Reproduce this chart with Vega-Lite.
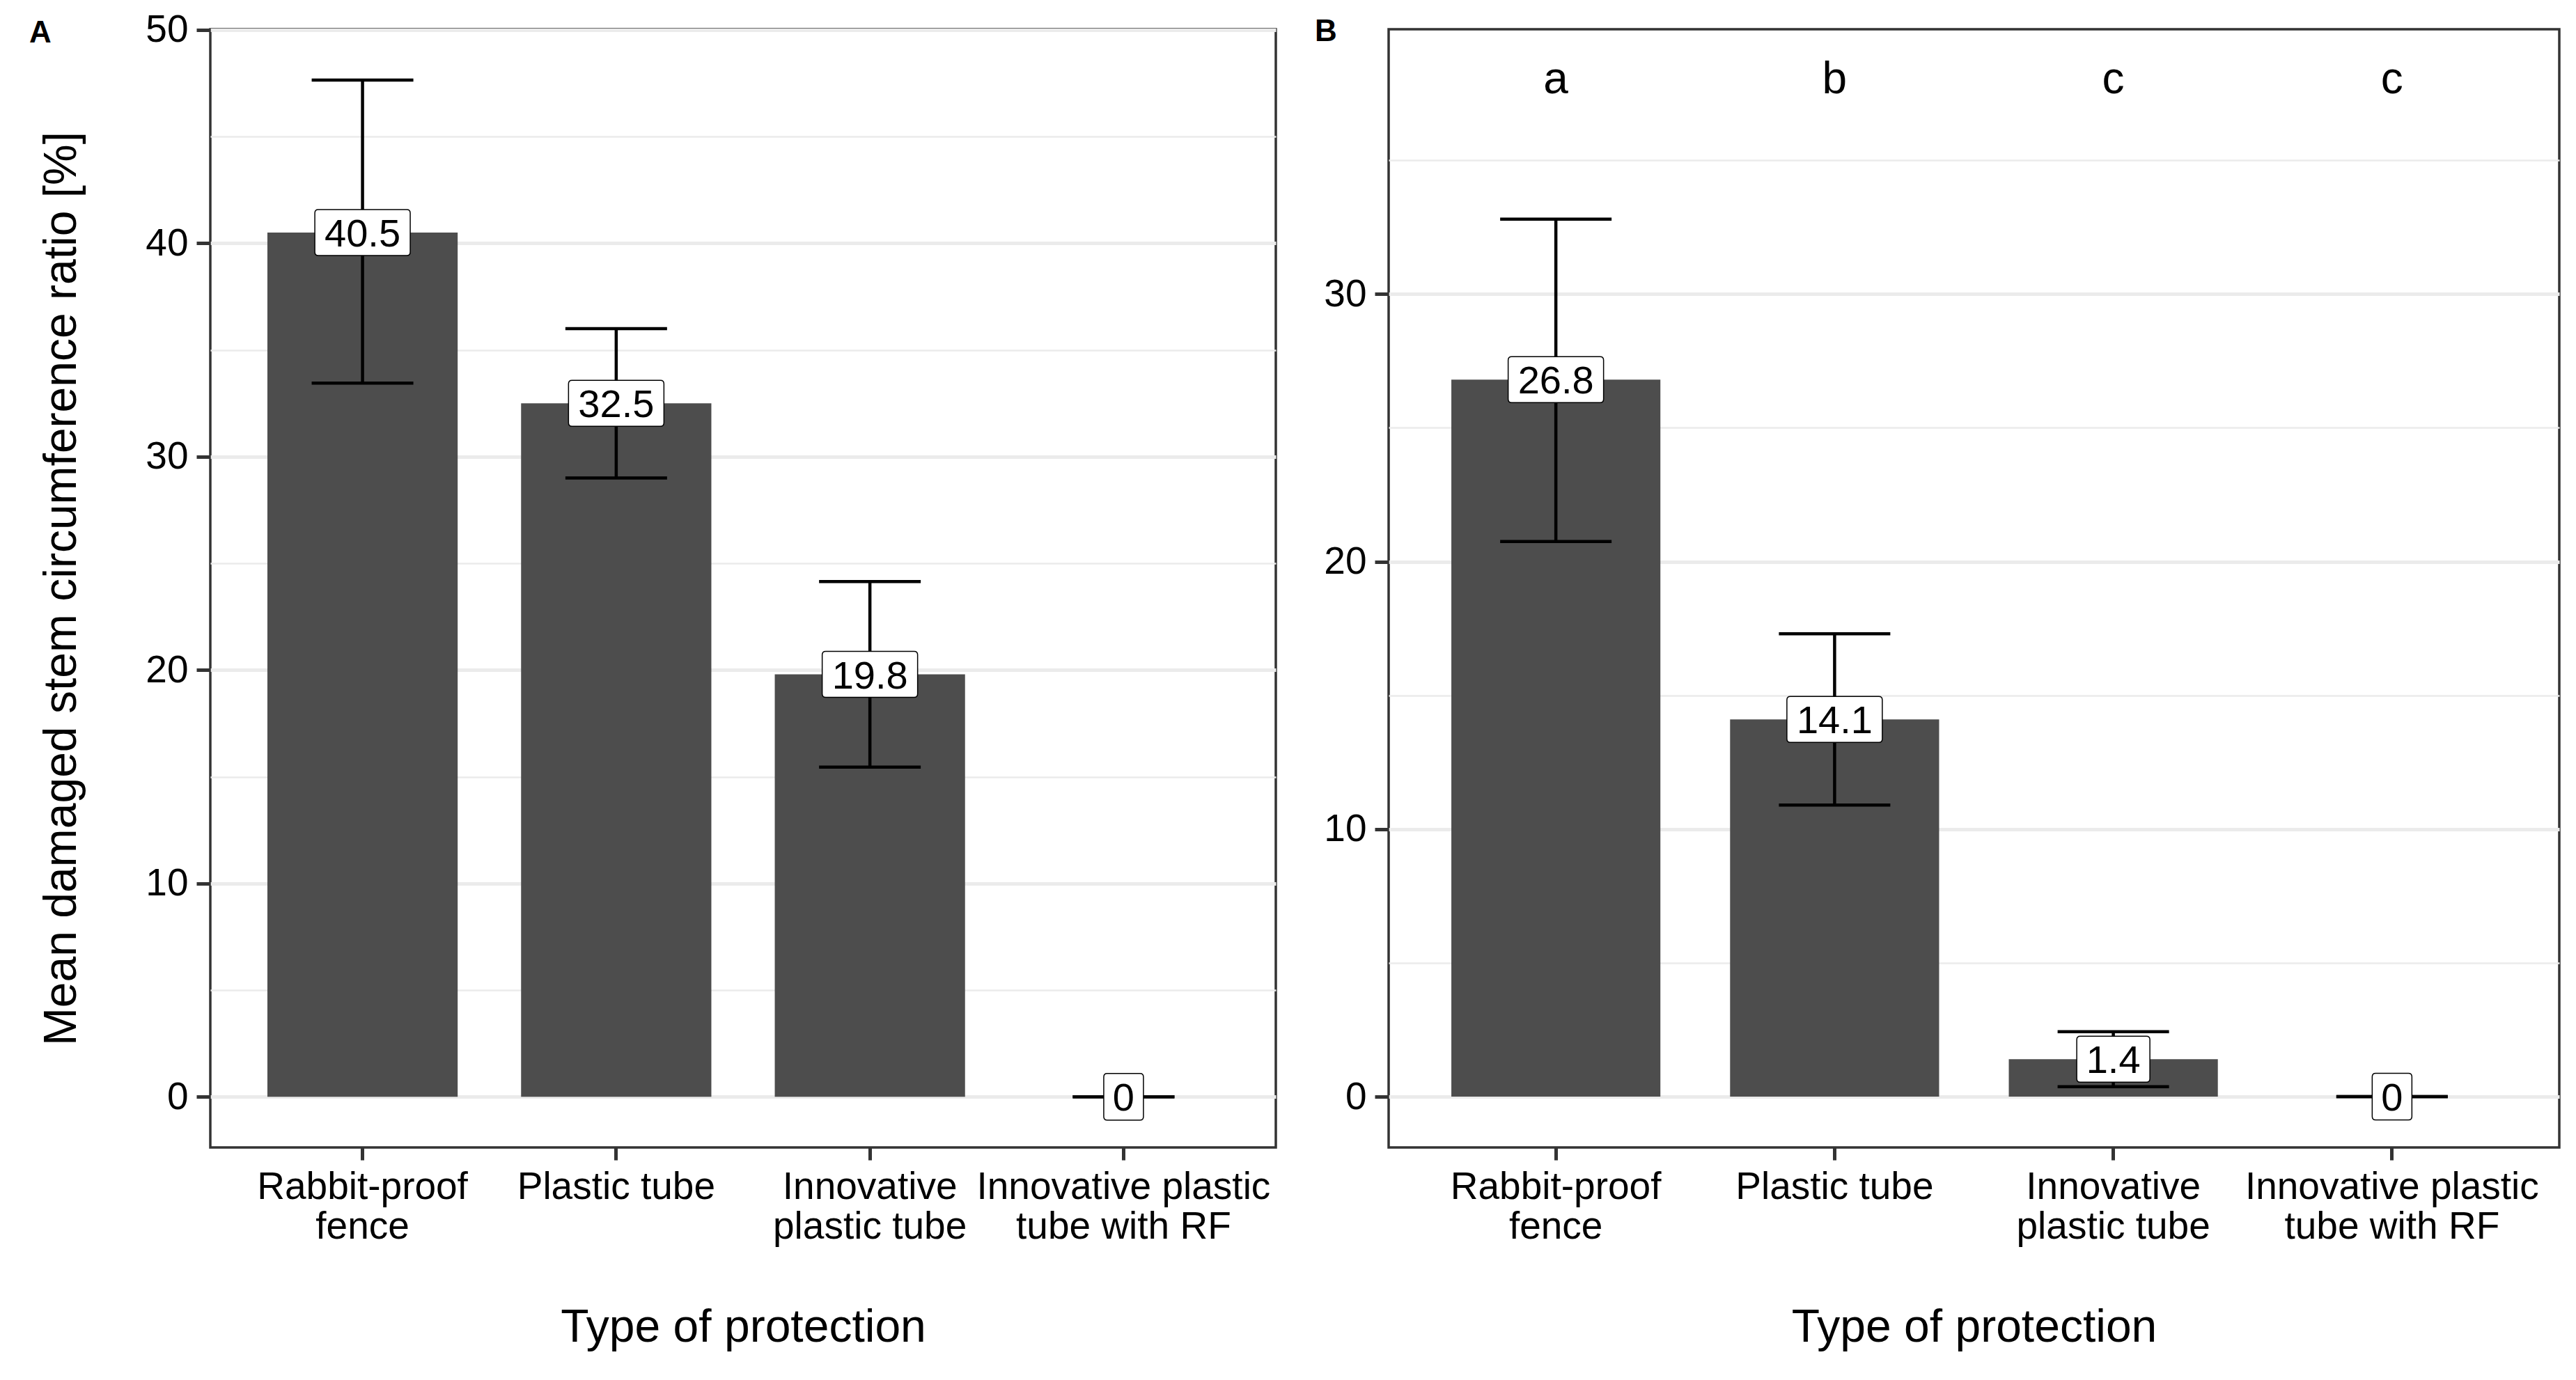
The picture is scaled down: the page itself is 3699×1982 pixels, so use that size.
{
  "$schema": "https://vega.github.io/schema/vega-lite/v6.json",
  "background": "white",
  "padding": {"left": 40, "top": 14, "right": 10, "bottom": 10},
  "bounds": "flush",
  "spacing": 162,
  "config": {
    "font": "Liberation Sans",
    "view": {"stroke": "#333333", "strokeWidth": 3.5},
    "axis": {
      "labelFont": "Liberation Sans",
      "labelFontSize": 55,
      "labelColor": "black",
      "titleFont": "Liberation Sans",
      "titleFontSize": 66,
      "titleFontWeight": "normal",
      "titleColor": "black",
      "tickColor": "#333333",
      "tickWidth": 5,
      "tickSize": 18,
      "domain": false,
      "gridColor": "#ebebeb"
    }
  },
  "datasets": {
    "A": [
      {"type": "Rabbit-proof fence", "mean": 40.5, "lo": 33.45, "hi": 47.65, "label": "40.5"},
      {"type": "Plastic tube", "mean": 32.5, "lo": 29.0, "hi": 36.0, "label": "32.5"},
      {"type": "Innovative plastic tube", "mean": 19.8, "lo": 15.45, "hi": 24.15, "label": "19.8"},
      {"type": "Innovative plastic tube with RF", "mean": 0, "lo": 0, "hi": 0, "label": "0"}
    ],
    "B": [
      {"type": "Rabbit-proof fence", "mean": 26.8, "lo": 20.75, "hi": 32.8, "label": "26.8", "letter": "a"},
      {"type": "Plastic tube", "mean": 14.1, "lo": 10.9, "hi": 17.3, "label": "14.1", "letter": "b"},
      {"type": "Innovative plastic tube", "mean": 1.4, "lo": 0.37, "hi": 2.43, "label": "1.4", "letter": "c"},
      {"type": "Innovative plastic tube with RF", "mean": 0, "lo": 0, "hi": 0, "label": "0", "letter": "c"}
    ]
  },
  "hconcat": [
    {
      "data": {"name": "A"},
      "width": 1530,
      "height": 1606,
      "title": {"text": "A", "anchor": "start", "frame": "group", "dx": -260, "offset": -89, "baseline": "alphabetic", "fontSize": 44, "fontWeight": "bold", "font": "Liberation Sans", "color": "black"},
      "encoding": {
        "x": {
          "field": "type", "type": "nominal", "sort": null,
          "scale": {"paddingInner": 0.25, "paddingOuter": 0.225},
          "axis": {
            "title": "Type of protection", "labelAngle": 0, "labelPadding": 12, "labelLineHeight": 57,
            "labelLimit": 1000, "labelOverlap": false, "grid": false, "titlePadding": 85,
            "labelExpr": "datum.label == 'Rabbit-proof fence' ? ['Rabbit-proof', 'fence'] : datum.label == 'Innovative plastic tube' ? ['Innovative', 'plastic tube'] : datum.label == 'Innovative plastic tube with RF' ? ['Innovative plastic', 'tube with RF'] : datum.label"
          }
        }
      },
      "layer": [
        {
          "mark": {"type": "bar", "color": "#4d4d4d"},
          "encoding": {
            "y": {
              "field": "mean", "type": "quantitative",
              "scale": {"domain": [-2.37, 50.03], "nice": false, "zero": false},
              "axis": {
                "title": "Mean damaged stem circumference ratio [%]",
                "values": [0, 5, 10, 15, 20, 25, 30, 35, 40, 45, 50],
                "labelExpr": "datum.value % 10 === 0 ? datum.label : ''",
                "tickOpacity": {"condition": {"test": "datum.value % 10 === 0", "value": 1}, "value": 0},
                "gridWidth": {"condition": {"test": "datum.value % 10 === 0", "value": 5}, "value": 2.5},
                "grid": true, "tickSize": 20, "labelPadding": 12, "titlePadding": 86
              }
            }
          }
        },
        {
          "mark": {"type": "rule", "color": "black", "strokeWidth": 4.5},
          "encoding": {"y": {"field": "lo", "type": "quantitative"}, "y2": {"field": "hi"}}
        },
        {
          "mark": {"type": "tick", "color": "black", "thickness": 4.5, "size": 146, "opacity": 1},
          "encoding": {"y": {"field": "lo", "type": "quantitative"}}
        },
        {
          "mark": {"type": "tick", "color": "black", "thickness": 4.5, "size": 146, "opacity": 1},
          "encoding": {"y": {"field": "hi", "type": "quantitative"}}
        },
        {
          "transform": [{"filter": "length(datum.label) === 4"}],
          "mark": {"type": "point", "shape": "M-1.27,-0.66L1.27,-0.66Q1.37,-0.66 1.37,-0.56L1.37,0.56Q1.37,0.66 1.27,0.66L-1.27,0.66Q-1.37,0.66 -1.37,0.56L-1.37,-0.56Q-1.37,-0.66 -1.27,-0.66Z", "size": 10000, "filled": true, "fill": "white", "stroke": "black", "strokeWidth": 1.5, "opacity": 1},
          "encoding": {"y": {"field": "mean", "type": "quantitative"}}
        },
        {
          "transform": [{"filter": "length(datum.label) === 1"}],
          "mark": {"type": "point", "shape": "M-0.47,-0.67L0.47,-0.67Q0.57,-0.67 0.57,-0.57L0.57,0.57Q0.57,0.67 0.47,0.67L-0.47,0.67Q-0.57,0.67 -0.57,0.57L-0.57,-0.57Q-0.57,-0.67 -0.47,-0.67Z", "size": 10000, "filled": true, "fill": "white", "stroke": "black", "strokeWidth": 1.5, "opacity": 1},
          "encoding": {"y": {"field": "mean", "type": "quantitative"}}
        },
        {
          "mark": {"type": "text", "fontSize": 56, "dy": 3, "color": "black", "font": "Liberation Sans"},
          "encoding": {"y": {"field": "mean", "type": "quantitative"}, "text": {"field": "label"}}
        }
      ]
    },
    {
      "data": {"name": "B"},
      "width": 1681,
      "height": 1606,
      "title": {"text": "B", "anchor": "start", "frame": "group", "dx": -106, "offset": -61, "baseline": "alphabetic", "fontSize": 44, "fontWeight": "bold", "font": "Liberation Sans", "color": "black"},
      "encoding": {
        "x": {
          "field": "type", "type": "nominal", "sort": null,
          "scale": {"paddingInner": 0.25, "paddingOuter": 0.225},
          "axis": {
            "title": "Type of protection", "labelAngle": 0, "labelPadding": 12, "labelLineHeight": 57,
            "labelLimit": 1000, "labelOverlap": false, "grid": false, "titlePadding": 85,
            "labelExpr": "datum.label == 'Rabbit-proof fence' ? ['Rabbit-proof', 'fence'] : datum.label == 'Innovative plastic tube' ? ['Innovative', 'plastic tube'] : datum.label == 'Innovative plastic tube with RF' ? ['Innovative plastic', 'tube with RF'] : datum.label"
          }
        }
      },
      "layer": [
        {
          "mark": {"type": "bar", "color": "#4d4d4d"},
          "encoding": {
            "y": {
              "field": "mean", "type": "quantitative",
              "scale": {"domain": [-1.9, 39.9], "nice": false, "zero": false},
              "axis": {
                "title": null,
                "values": [0, 5, 10, 15, 20, 25, 30, 35],
                "labelExpr": "datum.value % 10 === 0 ? datum.label : ''",
                "tickOpacity": {"condition": {"test": "datum.value % 10 === 0", "value": 1}, "value": 0},
                "gridWidth": {"condition": {"test": "datum.value % 10 === 0", "value": 5}, "value": 2.5},
                "grid": true, "tickSize": 20, "labelPadding": 12
              }
            }
          }
        },
        {
          "mark": {"type": "rule", "color": "black", "strokeWidth": 4.5},
          "encoding": {"y": {"field": "lo", "type": "quantitative"}, "y2": {"field": "hi"}}
        },
        {
          "mark": {"type": "tick", "color": "black", "thickness": 4.5, "size": 160, "opacity": 1},
          "encoding": {"y": {"field": "lo", "type": "quantitative"}}
        },
        {
          "mark": {"type": "tick", "color": "black", "thickness": 4.5, "size": 160, "opacity": 1},
          "encoding": {"y": {"field": "hi", "type": "quantitative"}}
        },
        {
          "transform": [{"filter": "length(datum.label) === 4"}],
          "mark": {"type": "point", "shape": "M-1.27,-0.66L1.27,-0.66Q1.37,-0.66 1.37,-0.56L1.37,0.56Q1.37,0.66 1.27,0.66L-1.27,0.66Q-1.37,0.66 -1.37,0.56L-1.37,-0.56Q-1.37,-0.66 -1.27,-0.66Z", "size": 10000, "filled": true, "fill": "white", "stroke": "black", "strokeWidth": 1.5, "opacity": 1},
          "encoding": {"y": {"field": "mean", "type": "quantitative"}}
        },
        {
          "transform": [{"filter": "length(datum.label) === 3"}],
          "mark": {"type": "point", "shape": "M-0.95,-0.66L0.95,-0.66Q1.05,-0.66 1.05,-0.56L1.05,0.56Q1.05,0.66 0.95,0.66L-0.95,0.66Q-1.05,0.66 -1.05,0.56L-1.05,-0.56Q-1.05,-0.66 -0.95,-0.66Z", "size": 10000, "filled": true, "fill": "white", "stroke": "black", "strokeWidth": 1.5, "opacity": 1},
          "encoding": {"y": {"field": "mean", "type": "quantitative"}}
        },
        {
          "transform": [{"filter": "length(datum.label) === 1"}],
          "mark": {"type": "point", "shape": "M-0.47,-0.67L0.47,-0.67Q0.57,-0.67 0.57,-0.57L0.57,0.57Q0.57,0.67 0.47,0.67L-0.47,0.67Q-0.57,0.67 -0.57,0.57L-0.57,-0.57Q-0.57,-0.67 -0.47,-0.67Z", "size": 10000, "filled": true, "fill": "white", "stroke": "black", "strokeWidth": 1.5, "opacity": 1},
          "encoding": {"y": {"field": "mean", "type": "quantitative"}}
        },
        {
          "mark": {"type": "text", "fontSize": 56, "dy": 3, "color": "black", "font": "Liberation Sans"},
          "encoding": {"y": {"field": "mean", "type": "quantitative"}, "text": {"field": "label"}}
        },
        {
          "mark": {"type": "text", "fontSize": 64, "dy": 0, "color": "black", "font": "Liberation Sans"},
          "encoding": {"y": {"datum": 38, "type": "quantitative"}, "text": {"field": "letter"}}
        }
      ]
    }
  ]
}
